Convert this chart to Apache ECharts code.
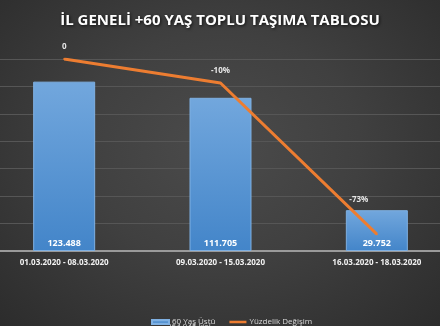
<!DOCTYPE html>
<html><head><meta charset="utf-8">
<script src="https://cdn.jsdelivr.net/npm/echarts@6/dist/echarts.min.js"></script>
<style>
html,body{margin:0;padding:0;width:440px;height:326px;overflow:hidden;
background:radial-gradient(ellipse at 50% 45%, #4b4b4b 0%, #404040 45%, #2c2c2c 100%);}
#c{position:absolute;left:-14px;top:0;width:469px;height:326px;}
</style></head><body><div id="c"></div>
<script>
const categories = ['01.03.2020 - 08.03.2020','09.03.2020 - 15.03.2020','16.03.2020 - 18.03.2020'];
const passengers = [123488, 111705, 29752];
const changePct = [0, -0.10, -0.73];
const barName = '60 Yaş Üstü';
const barNameLine2 = '264.945 kişi';
const lineName = 'Yüzdelik Değişim';
const titleText = 'İL GENELİ +60 YAŞ TOPLU TAŞIMA TABLOSU';

function fmtNum(v){ return String(v).replace(/\B(?=(\d{3})+(?!\d))/g,'.'); }

const X = 14; // page offset of the chart canvas
const chart = echarts.init(document.getElementById('c'));
chart.setOption({
  backgroundColor:'transparent',
  animation:false,
  title:{text:titleText,left:215+X,textAlign:'center',top:8,
    textStyle:{color:'#ffffff',fontSize:15,fontWeight:'bold',fontFamily:'Open Sans',
      textShadowColor:'rgba(0,0,0,0.7)',textShadowBlur:3,textShadowOffsetX:1,textShadowOffsetY:1}},
  legend:{top:313,left:146+X,itemGap:14,itemWidth:17,itemHeight:4,
    data:[{name:barName,icon:'rect'},{name:lineName,icon:'path://M0,0L20,0L20,3L0,3Z',itemStyle:{color:'#ed7d31',opacity:1}}],
    textStyle:{color:'#d9d9d9',fontSize:8,fontFamily:'Open Sans',padding:[0,0,0,-2]}},
  graphic:[{type:'text',left:167+X,top:323,
    style:{text:barNameLine2,fill:'#d9d9d9',font:'8px "Open Sans"'}}],
  grid:{left:0,right:0,top:59,bottom:75,containLabel:false},
  xAxis:{type:'category',data:categories,
    axisLine:{lineStyle:{color:'#9a9a9a',width:2}},axisTick:{show:false},
    axisLabel:{color:'#f2f2f2',fontSize:8,fontWeight:'bold',fontFamily:'Open Sans',margin:8,interval:0}},
  yAxis:[
    {type:'value',min:0,max:140000,interval:20000,axisLabel:{show:false},axisLine:{show:false},axisTick:{show:false},
     splitLine:{lineStyle:{color:'#565656',width:1}}},
    {type:'value',min:-0.8,max:0,interval:0.1,show:false,splitLine:{show:false}}
  ],
  series:[
    {name:barName,type:'bar',data:passengers,barWidth:62,yAxisIndex:0,
     itemStyle:{color:new echarts.graphic.LinearGradient(0,0,0,1,[{offset:0,color:'#72a7dd'},{offset:1,color:'#4385c9'}]),
       borderColor:'#7fb0e2',borderWidth:1},
     label:{show:true,position:'insideBottom',distance:3,color:'#ffffff',fontSize:9,fontWeight:'bold',fontFamily:'Open Sans',
       formatter:p=>fmtNum(p.value)}},
    {name:lineName,type:'line',data:changePct.map((v,i)=>i===2?{value:v,label:{offset:[-18,-22]}}:v),yAxisIndex:1,
     symbol:'circle',symbolSize:2,showSymbol:true,lineStyle:{color:'#ed7d31',width:3},itemStyle:{color:'#ed7d31'},
     label:{show:true,position:'top',distance:7,color:'#e6e6e6',fontSize:8,fontWeight:'bold',fontFamily:'Open Sans',
       formatter:p=>p.value===0?'0':Math.round(p.value*100)+'%'}}
  ]
});
</script></body></html>
